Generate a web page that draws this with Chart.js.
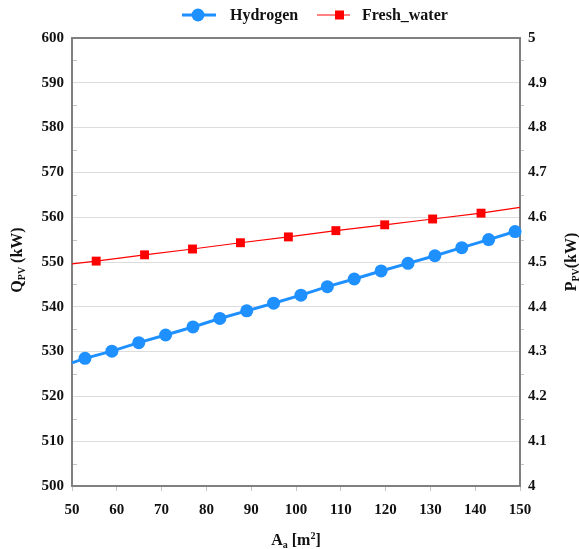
<!DOCTYPE html>
<html>
<head>
<meta charset="utf-8">
<script src="https://cdn.jsdelivr.net/npm/chart.js@4.4.1/dist/chart.umd.min.js"></script>
<style>
  html, body { margin: 0; padding: 0; background: #fff; }
</style>
</head>
<body>
<canvas id="chart" width="579" height="549"></canvas>
<script>
// values
const hydrogenArea = [50, 52.9, 58.9, 64.9, 70.9, 77, 83, 89, 95, 101.1, 107, 113, 119, 125, 131, 137, 143, 148.9, 150];
const hydrogenQ   = [527.5, 528.5, 530.1, 532.0, 533.7, 535.5, 537.4, 539.1, 540.8, 542.6, 544.5, 546.2, 548.0, 549.7, 551.4, 553.2, 555.0, 556.8, 557.2];
const freshArea   = [50, 55.4, 66.2, 76.9, 87.6, 98.3, 108.9, 119.8, 130.5, 141.3, 150];
const freshP      = [4.496, 4.502, 4.516, 4.529, 4.543, 4.556, 4.570, 4.583, 4.596, 4.609, 4.622];

const xTicks = [50, 60, 70, 80, 90, 100, 110, 120, 130, 140, 150];
const qTicks = [500, 510, 520, 530, 540, 550, 560, 570, 580, 590, 600];
const pTicks = [4, 4.1, 4.2, 4.3, 4.4, 4.5, 4.6, 4.7, 4.8, 4.9, 5];

const BLUE = 'rgb(30,144,255)';
const RED = '#ff0000';
const FONT = '"Liberation Serif", "Times New Roman", serif';
const TXT = '#111';

const toPoints = (xs, ys) => xs.map((x, i) => ({ x: x, y: ys[i] }));
// first and last entries only carry the line to the frame, no marker
const endless = (n, r) => (ctx) => (ctx.dataIndex === 0 || ctx.dataIndex === n - 1) ? 0 : r;
const fixedTicks = (list) => (scale) => { scale.ticks = list.map((v) => ({ value: v })); };

function drawRich(ctx, parts, x, y, angle) {
    ctx.save();
    ctx.translate(x, y);
    ctx.rotate(angle);
    let total = 0;
    parts.forEach((p) => {
        ctx.font = 'bold ' + p.size + 'px ' + FONT;
        p.w = ctx.measureText(p.t).width;
        total += p.w;
    });
    let cx = -total / 2;
    ctx.fillStyle = TXT;
    ctx.textAlign = 'left';
    ctx.textBaseline = 'alphabetic';
    parts.forEach((p) => {
        ctx.font = 'bold ' + p.size + 'px ' + FONT;
        ctx.fillText(p.t, cx, p.dy || 0);
        cx += p.w;
    });
    ctx.restore();
}

const decor = {
    id: 'decor',
    beforeDatasetsDraw(chart) {
        const { ctx, chartArea: a, scales } = chart;
        ctx.save();
        // minor marks
        ctx.strokeStyle = '#c4c4c4';
        ctx.lineWidth = 1;
        for (let i = 0; i < qTicks.length - 1; i++) {
            const y = Math.round(scales.yQ.getPixelForValue((qTicks[i] + qTicks[i + 1]) / 2)) + 0.5;
            ctx.beginPath(); ctx.moveTo(a.left, y); ctx.lineTo(a.left + 5, y); ctx.stroke();
            ctx.beginPath(); ctx.moveTo(a.right, y); ctx.lineTo(a.right + 4, y); ctx.stroke();
        }
        // frame
        ctx.strokeStyle = '#808080';
        ctx.lineWidth = 2;
        ctx.strokeRect(a.left, a.top, a.right - a.left, a.bottom - a.top);
        ctx.restore();
    },
    afterDraw(chart) {
        const { ctx, chartArea: a } = chart;
        // axis titles
        drawRich(ctx, [
            { t: 'Q', size: 16 }, { t: 'PV', size: 10, dy: 3 }, { t: ' (kW)', size: 16 }
        ], 22, 260, -Math.PI / 2);
        drawRich(ctx, [
            { t: 'P', size: 16 }, { t: 'PV', size: 10, dy: 3 }, { t: '(kW)', size: 16 }
        ], 576, 262, -Math.PI / 2);
        drawRich(ctx, [
            { t: 'A', size: 16 }, { t: 'a', size: 10, dy: 3 }, { t: ' [m', size: 16 },
            { t: '2', size: 10, dy: -6 }, { t: ']', size: 16 }
        ], (a.left + a.right) / 2, 545, 0);

        // legend: line + marker, then label
        const ds = chart.data.datasets;
        const y = 15;
        ctx.save();
        ctx.lineCap = 'butt';
        ctx.strokeStyle = BLUE; ctx.lineWidth = 3;
        ctx.beginPath(); ctx.moveTo(182, y); ctx.lineTo(216, y); ctx.stroke();
        ctx.fillStyle = BLUE;
        ctx.beginPath(); ctx.arc(198, y, 6.5, 0, Math.PI * 2); ctx.fill();
        ctx.strokeStyle = '#ff5a5a'; ctx.lineWidth = 1.5;
        ctx.beginPath(); ctx.moveTo(317, y); ctx.lineTo(350, y); ctx.stroke();
        ctx.fillStyle = RED;
        ctx.fillRect(335, y - 4.5, 9, 9);
        ctx.font = 'bold 16px ' + FONT;
        ctx.fillStyle = TXT;
        ctx.textBaseline = 'middle';
        ctx.fillText(ds[0].label, 230, y + 1);
        ctx.fillText(ds[1].label, 362, y + 1);
        ctx.restore();
    }
};

new Chart(document.getElementById('chart'), {
    type: 'line',
    data: {
        datasets: [
            {
                label: 'Hydrogen',
                data: toPoints(hydrogenArea, hydrogenQ),
                yAxisID: 'yQ',
                borderColor: BLUE,
                backgroundColor: BLUE,
                borderWidth: 3,
                pointStyle: 'circle',
                pointRadius: endless(hydrogenArea.length, 6.5),
                pointBorderWidth: 0,
                clip: false,
            },
            {
                label: 'Fresh_water',
                data: toPoints(freshArea, freshP),
                yAxisID: 'yP',
                borderColor: RED,
                backgroundColor: RED,
                borderWidth: 1.2,
                pointStyle: 'rect',
                pointRadius: endless(freshArea.length, 6.3),
                pointBorderWidth: 0,
                clip: false,
            },
        ],
    },
    options: {
        responsive: false,
        animation: false,
        layout: { padding: { top: 38, left: 0, right: 0, bottom: 0 } },
        plugins: { legend: { display: false }, tooltip: { enabled: false } },
        scales: {
            x: {
                type: 'linear', min: 50, max: 150,
                afterBuildTicks: fixedTicks(xTicks),
                afterFit: (s) => { s.height = 63; },
                border: { display: false },
                grid: { drawOnChartArea: false, tickLength: 5, tickColor: '#c4c4c4' },
                ticks: { padding: 10, color: TXT, font: { family: FONT, size: 15, weight: 'bold' } },
            },
            yQ: {
                type: 'linear', position: 'left', min: 500, max: 600,
                afterBuildTicks: fixedTicks(qTicks),
                afterFit: (s) => { s.width = 72; },
                border: { display: false },
                grid: { color: '#dcdcdc', drawTicks: false },
                ticks: { padding: 8, color: TXT, font: { family: FONT, size: 15, weight: 'bold' } },
            },
            yP: {
                type: 'linear', position: 'right', min: 4, max: 5,
                afterBuildTicks: fixedTicks(pTicks),
                afterFit: (s) => { s.width = 59; },
                border: { display: false },
                grid: { drawOnChartArea: false, drawTicks: false },
                ticks: {
                    padding: 8, color: TXT, font: { family: FONT, size: 15, weight: 'bold' },
                    callback: (v) => (v === 4 || v === 5) ? String(v) : v.toFixed(1),
                },
            },
        },
    },
    plugins: [decor],
});
</script>
</body>
</html>
